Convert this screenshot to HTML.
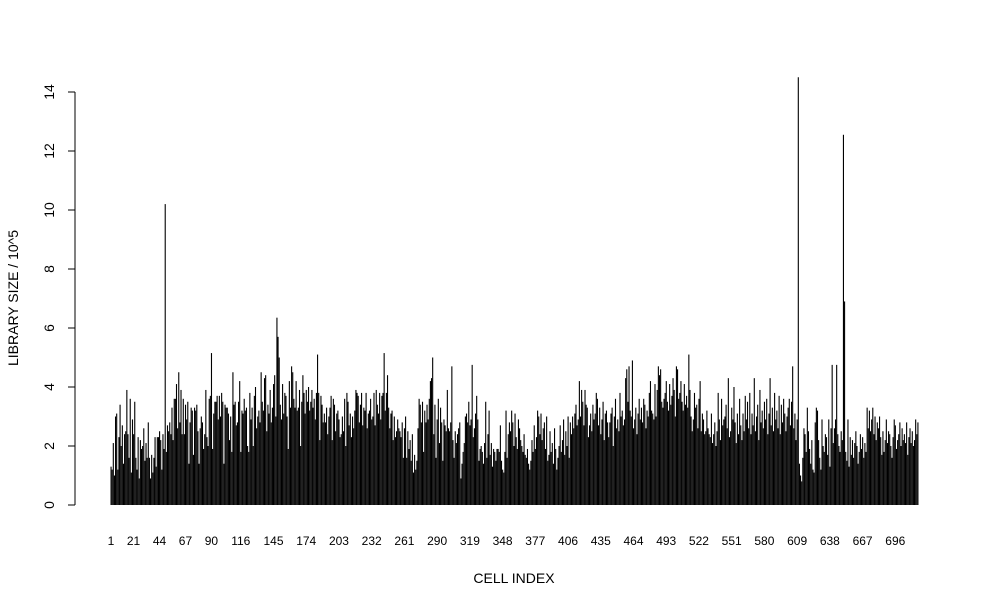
<!DOCTYPE html>
<html><head><meta charset="utf-8"><style>
html,body{margin:0;padding:0;background:#fff;}
svg{display:block;font-family:"Liberation Sans",sans-serif;}
</style></head><body>
<svg id="chart" width="990" height="608" viewBox="0 0 990 608" xmlns="http://www.w3.org/2000/svg">
<g id="bars"></g>
<g id="yaxis"></g>
<g id="xlabels"></g>
<text x="18" y="298" font-size="14" text-anchor="middle" transform="rotate(-90 18 298)">LIBRARY SIZE / 10^5</text>
<text x="514" y="583" font-size="14" text-anchor="middle">CELL INDEX</text>
</svg>
<script>
const yTicks = [0,2,4,6,8,10,12,14];
const xTickLabels = [1,21,44,67,90,116,145,174,203,232,261,290,319,348,377,406,435,464,493,522,551,580,609,638,667,696];
const libSizes = [
1.3,1.2,2.1,1.0,3.0,3.1,1.2,2.3,3.4,2.0,2.7,1.4,2.4,2.5,3.9,2.4,1.6,3.6,1.1,2.9,
2.4,3.5,1.6,1.2,2.3,0.9,2.2,1.9,2.0,2.6,1.5,2.1,1.6,2.8,1.6,0.9,1.7,1.1,1.6,2.3,
1.3,2.3,2.3,2.5,2.2,1.2,2.4,1.9,10.2,1.8,2.7,2.5,2.8,2.4,3.3,2.2,3.6,3.6,4.1,2.6,
4.5,2.8,3.9,2.4,3.6,2.4,3.4,2.9,3.5,1.4,2.8,3.3,3.2,1.7,3.3,3.2,3.4,2.5,1.4,2.6,
3.0,2.8,1.9,2.4,3.9,2.3,2.0,3.6,3.7,5.15,1.9,3.1,3.5,3.5,3.7,2.9,3.7,3.0,3.8,3.5,
1.4,3.4,3.3,3.3,3.1,2.2,3.0,1.8,4.5,3.4,3.5,2.7,2.8,3.5,4.2,1.8,3.2,3.1,3.6,3.2,
3.3,2.0,1.8,3.8,2.9,3.3,2.0,3.7,4.0,2.6,3.0,3.2,2.8,4.5,3.5,3.2,4.3,4.4,2.5,3.4,
3.1,3.9,2.8,3.3,4.1,4.4,3.0,6.35,5.7,5.0,3.4,2.9,4.1,3.1,3.8,3.7,3.0,1.9,4.2,3.3,
4.7,4.5,3.6,3.3,4.2,3.2,3.3,3.9,2.0,3.5,4.4,3.8,3.1,3.9,3.5,4.0,3.2,3.5,3.9,3.3,
3.6,2.9,3.8,5.1,3.8,2.2,3.7,3.4,2.8,3.1,2.8,3.3,2.4,3.0,3.3,3.7,2.2,3.6,3.4,2.5,
3.1,3.2,2.9,2.3,2.4,3.0,2.5,3.6,2.0,3.8,3.5,2.7,3.1,2.3,3.0,2.6,3.2,3.9,3.8,3.7,
2.8,3.4,3.8,2.7,3.3,3.2,3.8,2.6,3.1,3.2,3.6,2.9,3.0,3.8,2.7,3.9,3.4,3.1,3.8,2.9,
3.7,3.8,5.15,3.2,3.8,4.4,3.3,2.6,3.1,3.2,2.2,3.0,2.3,2.5,2.9,2.6,2.5,2.3,2.8,1.6,
2.6,3.0,1.6,2.5,1.9,2.2,1.5,2.4,1.1,1.7,1.2,1.5,2.6,3.6,3.4,2.8,3.5,1.8,3.2,2.8,
3.4,2.9,3.6,4.2,4.3,5.0,2.4,3.4,1.6,2.9,3.6,2.1,3.3,2.8,1.5,2.9,2.7,2.5,3.9,2.6,
2.5,2.8,4.7,2.2,1.6,2.5,2.1,2.4,2.6,2.8,0.9,1.4,1.8,2.1,3.0,3.1,2.8,3.5,2.7,2.9,
4.75,2.3,2.6,3.1,3.7,2.9,1.5,1.9,2.0,1.8,1.4,2.1,3.5,1.6,2.4,3.2,1.7,2.1,1.3,1.9,
1.8,1.5,1.9,1.9,1.8,2.7,1.5,1.2,1.1,1.8,3.2,1.6,2.4,2.8,2.5,3.2,2.8,2.0,3.1,2.3,
1.9,2.9,2.6,2.2,2.0,1.8,2.4,1.7,1.6,1.9,1.4,1.2,1.5,2.2,1.8,2.7,1.9,2.3,3.2,3.0,
2.4,3.1,2.2,2.6,2.8,1.9,3.0,1.5,1.7,2.5,1.8,2.1,1.4,2.6,1.9,1.2,1.6,2.0,2.7,1.8,
2.2,2.9,1.7,2.5,2.0,3.0,1.6,2.8,2.4,3.0,2.6,3.1,3.4,2.7,2.9,4.2,3.0,3.9,3.5,2.7,
3.9,3.4,3.3,2.3,2.7,3.1,2.5,3.4,2.9,3.1,3.8,3.6,2.7,3.3,2.4,2.9,3.5,2.2,3.1,3.2,
2.8,2.3,2.8,3.1,3.3,2.0,3.0,3.6,2.6,2.9,2.5,3.8,3.0,3.2,2.7,2.9,4.3,4.6,3.5,4.7,
3.2,3.0,4.9,2.6,2.9,3.3,2.4,3.1,3.6,2.9,3.3,2.8,3.6,3.4,2.6,3.2,3.0,3.8,4.2,3.2,
3.1,2.9,4.1,3.0,3.9,4.7,4.4,4.6,3.5,3.3,3.6,3.8,4.2,3.5,3.2,4.1,3.4,3.7,4.3,3.9,
3.0,4.7,4.6,3.6,3.8,4.2,3.5,3.2,4.1,3.4,3.7,3.3,5.1,3.9,3.0,2.5,2.9,3.8,3.3,3.4,
2.6,3.6,4.2,2.5,3.1,2.9,2.4,2.5,3.2,2.6,2.4,2.3,3.1,2.1,2.4,2.8,2.0,2.5,3.8,2.9,
2.2,3.6,2.7,2.9,3.0,3.4,2.6,4.3,2.3,2.5,3.3,2.9,4.0,2.8,2.1,3.1,2.4,3.6,2.7,2.2,
3.1,2.5,3.7,2.9,3.5,2.6,3.8,2.4,3.1,2.7,4.3,2.5,3.0,3.4,2.2,3.9,2.8,3.2,2.6,3.5,
2.9,3.6,2.4,3.1,4.3,2.7,3.3,2.5,3.8,2.9,3.2,2.6,3.7,2.4,3.4,2.8,3.6,3.1,2.5,3.0,
3.3,3.6,2.7,3.5,4.7,2.6,3.1,2.2,2.9,14.5,1.4,1.0,0.8,1.6,2.6,2.4,1.8,3.3,2.5,1.9,
1.4,2.2,1.2,1.1,2.8,3.3,3.2,2.2,1.6,1.2,2.9,2.0,1.8,2.4,2.3,1.7,2.9,1.3,2.6,4.75,
2.1,2.6,2.9,4.75,2.4,2.0,1.8,2.5,2.2,12.55,6.9,1.8,1.5,2.9,1.3,2.3,1.7,2.2,1.6,2.1,
2.5,2.0,1.4,1.8,2.4,1.9,2.3,1.6,2.1,1.8,3.3,2.6,3.2,2.5,2.9,3.3,2.4,3.0,2.2,2.8,
2.6,3.0,2.3,1.7,2.5,1.8,2.2,2.9,2.1,2.5,2.4,2.0,1.6,2.3,2.9,2.7,1.9,2.2,2.4,2.8,
2.0,2.6,2.2,2.4,2.1,2.8,1.7,2.3,2.6,2.1,2.5,2.0,2.2,2.9,2.4,2.8
];

const NS = "http://www.w3.org/2000/svg";
const x0 = 110.5, step = 1.1285, barW = 1.1;
const yBase = 505, yPerUnit = 29.5;
function xScale(i){ return x0 + i*step; }
function yScale(v){ return yBase - v*yPerUnit; }

const bars = document.getElementById('bars');
libSizes.forEach((v,i)=>{
  const r = document.createElementNS(NS,'rect');
  
  
  r.setAttribute('x', xScale(i));
  r.setAttribute('y', yScale(v));
  r.setAttribute('width', barW);
  r.setAttribute('height', yBase - yScale(v));
  r.setAttribute('fill', '#000');
  bars.appendChild(r);
});

const ya = document.getElementById('yaxis');
const axl = document.createElementNS(NS,'line');


axl.setAttribute('x1',75);axl.setAttribute('x2',75);
axl.setAttribute('y1',yScale(yTicks[yTicks.length-1]));axl.setAttribute('y2',yScale(0));
axl.setAttribute('stroke','#000');
ya.appendChild(axl);
yTicks.forEach(t=>{
  const l = document.createElementNS(NS,'line');
  
  
  l.setAttribute('x1',68);l.setAttribute('x2',75);
  l.setAttribute('y1',yScale(t));l.setAttribute('y2',yScale(t));
  l.setAttribute('stroke','#000');
  ya.appendChild(l);
  const tx = document.createElementNS(NS,'text');
  
  
  const y = yScale(t);
  tx.setAttribute('x',54);tx.setAttribute('y',y);
  tx.setAttribute('font-size','14');
  tx.setAttribute('text-anchor','middle');
  tx.setAttribute('transform','rotate(-90 54 '+y+')');
  tx.textContent = t;
  ya.appendChild(tx);
});

const xl = document.getElementById('xlabels');
xTickLabels.forEach(n=>{
  const tx = document.createElementNS(NS,'text');
  
  
  tx.setAttribute('x', xScale(n-1)+0.5);
  tx.setAttribute('y', 545);
  tx.setAttribute('font-size','12');
  tx.setAttribute('text-anchor','middle');
  tx.textContent = n;
  xl.appendChild(tx);
});
</script>
</body></html>
